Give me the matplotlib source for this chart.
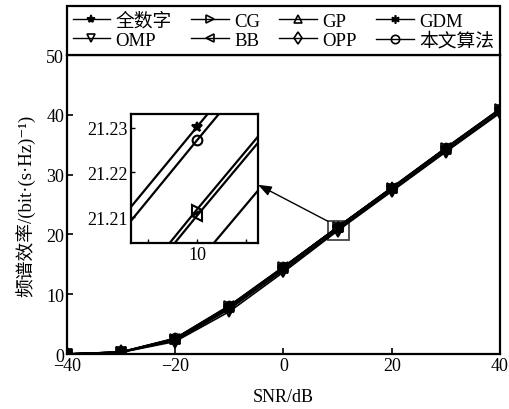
import numpy as np
import matplotlib.pyplot as plt
from matplotlib.patches import Rectangle

plt.rcParams['font.family'] = ['Liberation Serif', 'Noto Sans CJK SC', 'DejaVu Serif']
plt.rcParams['axes.unicode_minus'] = True

snr = [-40, -30, -20, -10, 0, 10, 20, 30, 40]

# 频谱效率 (bit/(s*Hz))
se_full = [0.0, 0.35, 2.65, 8.10, 14.60, 21.2302, 27.85, 34.50, 41.00]
se_prop = [0.0, 0.34, 2.60, 8.05, 14.55, 21.2272, 27.80, 34.45, 40.95]
se_cg = [0.0, 0.33, 2.55, 7.95, 14.50, 21.2117, 27.75, 34.40, 40.90]
se_bb = [0.0, 0.33, 2.55, 7.95, 14.50, 21.2103, 27.75, 34.40, 40.90]
se_gp = [0.0, 0.32, 2.50, 7.85, 14.40, 21.1997, 27.70, 34.30, 40.85]
se_gdm = [0.0, 0.30, 2.30, 7.60, 14.10, 20.85, 27.40, 34.00, 40.50]
se_opp = [0.0, 0.30, 2.25, 7.50, 14.00, 20.80, 27.35, 33.95, 40.45]
se_omp = [0.0, 0.28, 2.10, 7.10, 13.70, 20.60, 27.20, 33.80, 40.30]

series = [
    ('全数字', se_full, '*', 'k'),
    ('OMP', se_omp, 'v', 'none'),
    ('CG', se_cg, '>', 'none'),
    ('BB', se_bb, '<', 'none'),
    ('GP', se_gp, '^', 'none'),
    ('OPP', se_opp, 'd', 'none'),
    ('GDM', se_gdm, (6, 2, 0), 'k'),
    ('本文算法', se_prop, 'o', 'none'),
]

fig = plt.figure(figsize=(5.09, 4.10), dpi=100)
ax = fig.add_axes([0.1316, 0.1341, 0.8507, 0.7293])

handles = []
for name, vals, mk, mfc in series:
    h, = ax.plot(snr, vals, color='k', lw=1.2, marker=mk, ms=7,
                 mfc=mfc, mec='k', mew=1.2, label=name)
    handles.append(h)

ax.set_xlim(-40, 40)
ax.set_ylim(0, 50)
ax.set_xticks([-40, -20, 0, 20, 40])
ax.set_yticks([0, 10, 20, 30, 40, 50])
ax.tick_params(direction='in', length=4, width=1.2, labelsize=13,
               top=False, right=False, pad=2)
for sp in ax.spines.values():
    sp.set_linewidth(1.6)
ax.set_xlabel('SNR/dB', fontsize=13, labelpad=10)
ax.set_ylabel('频谱效率/(bit·(s·Hz)⁻¹)', fontsize=13.5, labelpad=8)

# legend box sits on top of the axes
leg = fig.legend(handles=handles, ncol=4, mode='expand',
                 bbox_to_anchor=(0.1316, 0.8634, 0.8507, 0.1244),
                 loc='lower left', borderaxespad=0, fancybox=False,
                 edgecolor='k', framealpha=1, fontsize=13.5,
                 handlelength=2.0, handletextpad=0.3, columnspacing=0.6,
                 labelspacing=0.1, borderpad=0.3)
leg.get_frame().set_linewidth(1.6)
for h in leg.legend_handles:
    h.set_markersize(6)
    h.set_linewidth(1.0)

# zoom box around SNR = 10 dB
ax.add_patch(Rectangle((8.2, 19.1), 3.9, 3.1, fill=False, ec='#444444', lw=1.3))
ax.annotate('', xy=(-4.7, 28.3), xytext=(8.2, 22.2),
            arrowprops=dict(arrowstyle='-|>,head_length=0.8,head_width=0.3',
                            color='k', lw=1.0, shrinkA=0, shrinkB=0))

ins = fig.add_axes([131 / 509, 1 - 244 / 410, 127 / 509, 129 / 410])
for name, vals, mk, mfc in series:
    ins.plot(snr, vals, color='k', lw=1.6, marker=mk, ms=7,
             mfc=mfc, mec='k', mew=1.5)
ins.set_xlim(9.973, 10.025)
ins.set_ylim(21.2042, 21.2331)
ins.set_xticks([9.98, 10, 10.02])
ins.set_xticklabels(['', '10', ''])
ins.set_yticks([21.21, 21.22, 21.23])
ins.set_yticklabels(['21.21', '21.22', '21.23'])
ins.tick_params(direction='in', length=3, width=1.0, labelsize=13, pad=2)
for sp in ins.spines.values():
    sp.set_linewidth(1.6)

fig.savefig('out.png', dpi=100)
